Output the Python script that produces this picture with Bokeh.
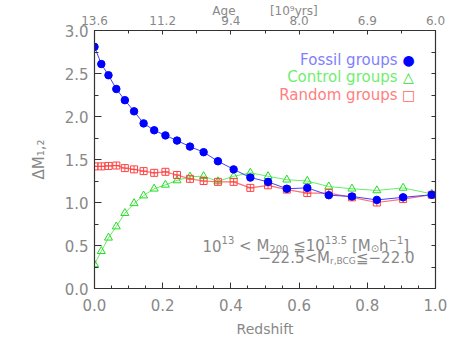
from bokeh.plotting import figure
from bokeh.models import (LinearAxis, FixedTicker, PrintfTickFormatter,
                          CustomJSTickFormatter, Range1d, Label)
from bokeh.embed import file_html
from bokeh.resources import INLINE

# ---------------- data ----------------
redshift = [0.0, 0.020, 0.041, 0.064, 0.089, 0.116, 0.144, 0.175, 0.208, 0.242,
            0.280, 0.320, 0.362, 0.408, 0.457, 0.509, 0.564, 0.624, 0.687,
            0.755, 0.828, 0.905, 0.989]
fossil = [2.81, 2.61, 2.48, 2.32, 2.19, 2.06, 1.92, 1.84, 1.78, 1.72,
          1.65, 1.585, 1.48, 1.385, 1.29, 1.24, 1.16, 1.17, 1.085,
          1.07, 1.03, 1.06, 1.09]
control = [0.28, 0.434, 0.59, 0.72, 0.876, 0.99, 1.08, 1.16, 1.205, 1.256,
           1.30, 1.305, 1.245, 1.305, 1.345, 1.305, 1.265, 1.25, 1.185,
           1.16, 1.14, 1.17, 1.10]
random_g = [1.42, 1.42, 1.425, 1.43, 1.40, 1.385, 1.365, 1.345, 1.357, 1.32,
            1.275, 1.25, 1.24, 1.24, 1.17, 1.20, 1.15, 1.11, 1.11,
            1.06, 1.00, 1.04, 1.09]

x_ticks = [0.0, 0.2, 0.4, 0.6, 0.8, 1.0]
age_labels = ["13.6", "11.2", "9.4", "8.0", "6.9", "6.0"]
y_ticks = [0.0, 0.5, 1.0, 1.5, 2.0, 2.5, 3.0]

# ---------------- styling constants ----------------
FONT = "DejaVu Sans"
GRAY = "#888888"
AXC = "#333333"
OFF = 0                      # page offset of the canvas
L, R, T, B = 94, 28, 30, 60
W, H = 463, 348
FW, FH = W - L - R, H - T - B
X0, X1, Y0, Y1 = 0.0, 1.0, 0.0, 3.0

# page pixel -> data coordinate helpers
def px_x(px):
    return X0 + (px - OFF - L) / FW * (X1 - X0)

def px_y(py):
    return Y0 + (H - B - (py - OFF)) / FH * (Y1 - Y0)

p = figure(width=W, height=H, output_backend="svg", toolbar_location=None,
           x_range=Range1d(X0, X1), y_range=Range1d(Y0, Y1),
           min_border_left=L, min_border_right=R, min_border_top=T,
           min_border_bottom=B)
p.xgrid.visible = False
p.ygrid.visible = False
p.outline_line_color = AXC
p.background_fill_color = "white"
p.border_fill_color = "white"

def style_axis(ax, major_in, minor_in):
    ax.axis_line_color = AXC
    ax.axis_line_width = 1.2
    ax.major_tick_line_color = AXC
    ax.minor_tick_line_color = AXC
    ax.major_tick_in = major_in
    ax.major_tick_out = 0
    ax.minor_tick_in = minor_in
    ax.minor_tick_out = 0
    ax.major_label_text_color = GRAY
    ax.major_label_text_font = FONT
    ax.major_label_text_font_size = "15px"
    ax.axis_label_text_color = GRAY
    ax.axis_label_text_font = FONT
    ax.axis_label_text_font_style = "normal"

# bottom axis
xa = p.xaxis[0]
xa.ticker = FixedTicker(ticks=x_ticks,
                        minor_ticks=[i * 0.05 for i in range(21)])
xa.formatter = PrintfTickFormatter(format="%.1f")
style_axis(xa, 6, 3)
xa.major_label_standoff = 10
xa.axis_label = "Redshift"
xa.axis_label_text_font_size = "14px"
xa.axis_label_standoff = 7

# left axis
ya = p.yaxis[0]
ya.ticker = FixedTicker(ticks=y_ticks,
                        minor_ticks=[i * 0.25 for i in range(13)])
ya.formatter = PrintfTickFormatter(format="%.1f")
style_axis(ya, 7, 4)
ya.major_label_standoff = 6
ya.axis_label = "ΔM₁,₂"
ya.axis_label_text_font_size = "15px"
ya.axis_label_standoff = 14

# top axis (age)
NB = "\u00a0"
ta = LinearAxis(ticker=FixedTicker(ticks=x_ticks,
                                   minor_ticks=[i * 0.1 for i in range(11)]),
                major_label_overrides={t: s for t, s in zip(x_ticks, age_labels)},
                axis_label="Age" + NB * 9 + "[10⁹yrs]")
style_axis(ta, 4, 3)
ta.major_label_text_font_size = "12px"
ta.major_label_standoff = 6
ta.axis_label_text_font_size = "12px"
ta.axis_label_standoff = -5
p.add_layout(ta, "above")

# right axis (ticks only)
ra = LinearAxis(ticker=FixedTicker(ticks=[i * 0.25 for i in range(13)],
                                   minor_ticks=[]),
                formatter=CustomJSTickFormatter(code="return ''"))
style_axis(ra, 4, 0)
ra.major_label_standoff = 0
p.add_layout(ra, "right")

# ---------------- series ----------------
p.line(redshift, control, line_color="#66ee66", line_width=1)
p.scatter(redshift, control, marker="triangle", size=8,
          line_color="#22dd22", fill_color=None, line_width=1)

p.line(redshift, random_g, line_color="#ff7070", line_width=1.2)
p.scatter(redshift, random_g, marker="square_cross", size=7,
          line_color="#ff4444", fill_color=None, line_width=1)

p.line(redshift, fossil, line_color="#4040ff", line_width=1)
p.scatter(redshift, fossil, marker="circle", size=7.5,
          line_color="#0000ff", fill_color="#0000ff")

# ---------------- legend (text + symbol on the right) ----------------
legend = [("Fossil groups", "#8080ff", "●", "#0000ff", 59),
          ("Control groups", "#70ee70", "△", "#33dd33", 76.7),
          ("Random groups", "#ff8080", "□", "#ff6666", 94)]
for txt, tc, sym, sc, py in legend:
    p.add_layout(Label(x=px_x(397), y=px_y(py), text=txt, text_color=tc,
                       text_font=FONT, text_font_size="15px",
                       text_align="right", text_baseline="middle"))
    p.add_layout(Label(x=px_x(408), y=px_y(py), text=sym, text_color=sc,
                       text_font=FONT, text_font_size="14px",
                       text_align="center", text_baseline="middle"))

# ---------------- annotation with super/subscripts ----------------
CW = {**{d: 0.636 for d in "0123456789"}, ".": 0.318, " ": 0.318,
      "<": 0.838, "≦": 0.838, "M": 0.863, "[": 0.390, "]": 0.390,
      "h": 0.634, "−": 0.838, "⊙": 0.838, ",": 0.318, "r": 0.411,
      "B": 0.686, "C": 0.698, "G": 0.775}

def width(s, size):
    return sum(CW.get(c, 0.6) for c in s) * size

def place(segments, start_px, base_py, color=GRAY):
    xpx = start_px
    for s, size, dy in segments:
        lead = len(s) - len(s.lstrip(" "))
        xpx += width(" " * lead, size)
        core = s.strip(" ")
        p.add_layout(Label(x=px_x(xpx), y=px_y(base_py - dy), text=core,
                           text_color=color, text_font=FONT,
                           text_font_size=f"{size}px", text_align="left",
                           text_baseline="alphabetic"))
        xpx += width(s.lstrip(" "), size)

place([("10", 15, 0), ("13", 10, 6), (" < M", 15, 0), ("200", 10, -3),
       (" ≦10", 15, 0), ("13.5", 10, 6), (" [M", 15, 0), ("⊙", 10, -3),
       ("h", 15, 0), ("−1", 10, 6), ("]", 15, 0)], 202, 245)
place([("−22.5<M", 15, 0), ("r,BCG", 9, -3), ("≦−22.0", 15, 0)], 258, 257)

open("out.html", "w").write(file_html(p, INLINE))
